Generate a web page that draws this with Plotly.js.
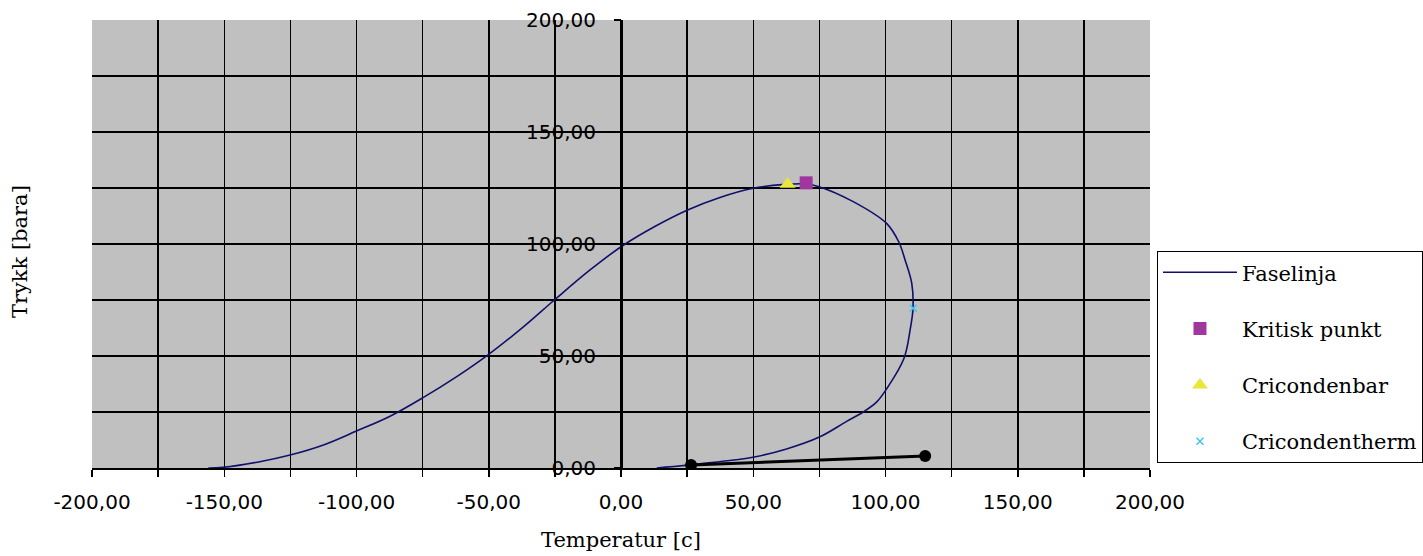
<!DOCTYPE html>
<html>
<head>
<meta charset="utf-8">
<script src="https://cdn.plot.ly/plotly-3.0.1.min.js"></script>
<style>html,body{margin:0;padding:0;background:#fff;}#chart{width:1423px;height:556px;}</style>
</head>
<body>
<div id="chart"></div>
<script>
// Phase envelope (Faselinja)
const faseTemp = [-156, -150.4, -137.5, -125.1, -112.5, -100, -87.5, -75, -62.1, -50.4, -36.9, -25.2, -11.7, 0.3, 12.6, 25.2, 37.4, 50, 62, 70, 74.9, 87.8, 100.4, 105, 107.4, 109.9, 110.4, 109.3, 107, 100.7, 96.7, 91.6, 85.3, 75, 62.6, 49.8, 25.1, 13.5];
const fasePres = [0, 0.3, 2.6, 5.8, 10.3, 16.5, 23, 31.3, 40.8, 50.4, 63, 75, 88.4, 99, 107.7, 115.2, 120.8, 124.9, 126.6, 126.8, 125.6, 118.9, 109.2, 101, 92.9, 82.6, 71.3, 61.6, 49, 35.8, 29.5, 25, 20.8, 13.8, 8.5, 4.8, 1.3, 0];

// Black process line (not in legend)
const prosessTemp = [26.5, 115];
const prosessPres = [1.3, 5.4];

// Special points
const kritiskTemp = [70];
const kritiskPres = [127.3];
const cricondenbarTemp = [63];
const cricondenbarPres = [126.7];
const cricondenthermTemp = [110.5];
const cricondenthermPres = [71.3];

// Axis ticks
const xTickVals = [-200, -175, -150, -125, -100, -75, -50, -25, 0, 25, 50, 75, 100, 125, 150, 175, 200];
const xTickText = ['-200,00', '', '-150,00', '', '-100,00', '', '-50,00', '', '0,00', '', '50,00', '', '100,00', '', '150,00', '', '200,00'];
const yTickVals = [0, 25, 50, 75, 100, 125, 150, 175, 200];
const yTickText = ['0,00', '', '50,00', '', '100,00', '', '150,00', '', '200,00'];

const traces = [
  {
    x: faseTemp, y: fasePres, type: 'scatter', mode: 'lines', name: 'Faselinja',
    line: {color: '#10106a', width: 1.6, shape: 'spline', smoothing: 1.0},
    legendgroup: 'a'
  },
  {
    x: prosessTemp, y: prosessPres, type: 'scatter', mode: 'lines+markers', name: 'Prosess',
    line: {color: '#000000', width: 3}, marker: {color: '#000000', size: 12, symbol: 'circle'},
    showlegend: false
  },
  {
    x: kritiskTemp, y: kritiskPres, type: 'scatter', mode: 'markers', name: 'Kritisk punkt',
    marker: {color: '#A0379E', size: 13, symbol: 'square'}, legendgroup: 'b'
  },
  {
    x: cricondenbarTemp, y: cricondenbarPres, type: 'scatter', mode: 'markers', name: 'Cricondenbar',
    marker: {color: '#E8E83C', size: 14, symbol: 'triangle-up'}, legendgroup: 'c'
  },
  {
    x: cricondenthermTemp, y: cricondenthermPres, type: 'scatter', mode: 'markers', name: 'Cricondentherm',
    marker: {color: '#3CC8F0', size: 7, symbol: 'x-thin-open', line: {color: '#3CC8F0', width: 1.5}}, legendgroup: 'd'
  }
];

const tickFont = {family: 'DejaVu Sans', size: 20, color: '#000'};
const titleFont = {family: 'DejaVu Serif', size: 21, color: '#000'};

const layout = {
  width: 1423, height: 556,
  font: {family: 'DejaVu Serif', size: 21, color: '#000'},
  margin: {l: 92, r: 273, t: 20, b: 88, pad: 0, autoexpand: false},
  paper_bgcolor: '#ffffff',
  plot_bgcolor: '#C0C0C0',
  showlegend: true,
  xaxis: {
    range: [-200, 200], tickmode: 'array', tickvals: xTickVals, ticktext: xTickText,
    showgrid: true, gridcolor: '#000', gridwidth: 1.5, zeroline: false,
    showline: true, linecolor: '#000', linewidth: 1.5,
    ticks: 'outside', ticklen: 7, tickwidth: 1.5, tickcolor: '#000',
    tickfont: tickFont, ticklabelstandoff: 8,
    title: {text: 'Temperatur [c]', font: titleFont, standoff: 20},
    automargin: false, fixedrange: true
  },
  yaxis: {
    range: [0, 200], tickmode: 'array', tickvals: yTickVals, ticktext: yTickText,
    anchor: 'free', position: 0.5,
    showgrid: true, gridcolor: '#000', gridwidth: 1.5, zeroline: false,
    showline: true, linecolor: '#000', linewidth: 1.5,
    ticks: 'outside', ticklen: 7, tickwidth: 1.5, tickcolor: '#000',
    tickfont: tickFont, ticklabelstandoff: 14,
    automargin: false, fixedrange: true
  },
  legend: {
    x: 1.0066, y: 0.484, xanchor: 'left', yanchor: 'top',
    bgcolor: '#ffffff', bordercolor: '#000', borderwidth: 1,
    font: {family: 'DejaVu Serif', size: 21, color: '#000'},
    traceorder: 'grouped', tracegroupgap: 26, itemwidth: 74
  },
  annotations: [
    {text: 'Trykk [bara]', xref: 'paper', yref: 'paper', x: -0.068, y: 0.482,
     textangle: -90, showarrow: false, font: titleFont, xanchor: 'center', yanchor: 'middle'}
  ]
};

Plotly.newPlot('chart', traces, layout, {displayModeBar: false, staticPlot: true});
</script>
</body>
</html>
